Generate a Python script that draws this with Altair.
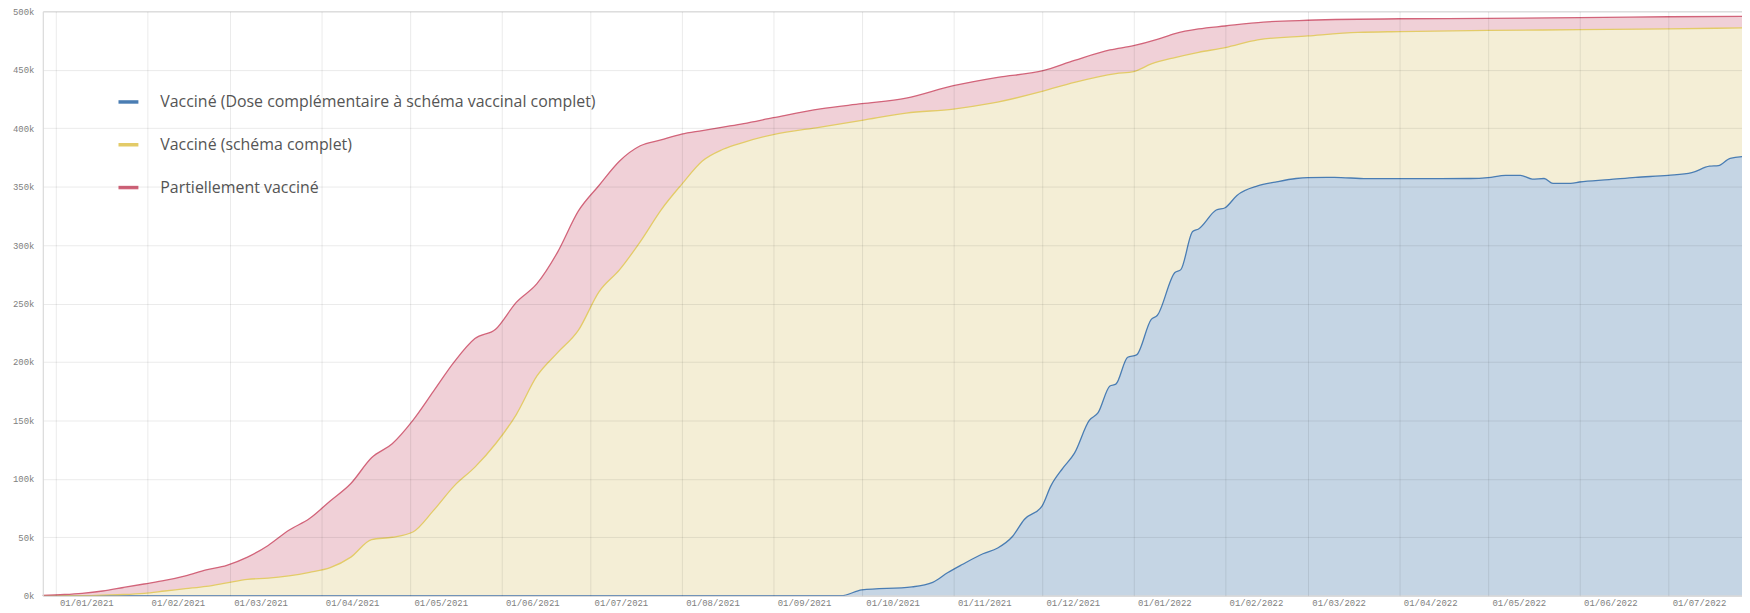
import altair as alt
import pandas as pd

# ---- data (values in persons) ----
red_dates = ["2020-12-27", "2021-01-04", "2021-01-10", "2021-01-17", "2021-01-24", "2021-01-31",
             "2021-02-07", "2021-02-14", "2021-02-21", "2021-02-28", "2021-03-07", "2021-03-14",
             "2021-03-21", "2021-03-28", "2021-04-04", "2021-04-11", "2021-04-18", "2021-04-25",
             "2021-05-02", "2021-05-09", "2021-05-16", "2021-05-23", "2021-05-30", "2021-06-06",
             "2021-06-13", "2021-06-20", "2021-06-27", "2021-07-04", "2021-07-11", "2021-07-18",
             "2021-07-25", "2021-08-01", "2021-08-08", "2021-08-15", "2021-08-22", "2021-09-01",
             "2021-09-17", "2021-10-01", "2021-10-16", "2021-11-01", "2021-11-16", "2021-12-01",
             "2021-12-12", "2021-12-24", "2022-01-01", "2022-01-09", "2022-01-15", "2022-01-23",
             "2022-02-01", "2022-02-14", "2022-03-01", "2022-04-01", "2022-05-01", "2022-06-01",
             "2022-07-01", "2022-07-28"]
red_vals = [300, 1000, 2000, 4000, 7000, 10000,
            13000, 17000, 22000, 26000, 33000, 43000,
            56000, 66000, 81000, 96000, 118000, 130000,
            150000, 175000, 200000, 220000, 228000, 251000,
            267000, 294000, 329000, 351000, 372000, 385000,
            390000, 395000, 398000, 401000, 404000, 409000,
            416600, 421000, 425700, 436400, 443600, 449000,
            458000, 467000, 470600, 476000, 481000, 485000,
            487500, 490800, 492400, 493700, 494000, 494700,
            495400, 495700]

yellow_dates = ["2020-12-27", "2021-01-10", "2021-01-17", "2021-01-24", "2021-01-31", "2021-02-07",
                "2021-02-14", "2021-02-21", "2021-02-28", "2021-03-07", "2021-03-14", "2021-03-21",
                "2021-03-28", "2021-04-04", "2021-04-11", "2021-04-18", "2021-04-25", "2021-05-02",
                "2021-05-09", "2021-05-16", "2021-05-23", "2021-05-30", "2021-06-06", "2021-06-13",
                "2021-06-20", "2021-06-27", "2021-07-04", "2021-07-11", "2021-07-18", "2021-07-25",
                "2021-08-01", "2021-08-08", "2021-08-15", "2021-08-22", "2021-09-01", "2021-09-17",
                "2021-10-01", "2021-10-16", "2021-11-01", "2021-11-14", "2021-12-01", "2021-12-12",
                "2021-12-26", "2022-01-01", "2022-01-07", "2022-01-15", "2022-01-23", "2022-02-01",
                "2022-02-12", "2022-03-01", "2022-03-18", "2022-04-01", "2022-05-01", "2022-06-01",
                "2022-07-01", "2022-07-28"]
yellow_vals = [0, 0, 500, 1000, 2000, 4000,
               6000, 8000, 11000, 14000, 15000, 17000,
               20000, 24000, 33000, 48000, 50000, 54500,
               73000, 94000, 110000, 130000, 155000, 188000,
               208000, 227000, 260000, 279000, 303000, 330000,
               352000, 372000, 382000, 388000, 394600, 401000,
               406700, 413000, 416400, 421400, 431500, 439300,
               446800, 448500, 455000, 460500, 465000, 469000,
               475600, 479000, 482000, 482700, 483700, 484300,
               485000, 486000]

blue_dates = ["2020-12-27", "2021-09-24", "2021-10-01", "2021-10-18", "2021-10-25", "2021-10-30",
              "2021-11-04", "2021-11-11", "2021-11-16", "2021-11-21", "2021-11-25", "2021-12-01",
              "2021-12-04", "2021-12-08", "2021-12-12", "2021-12-17", "2021-12-20", "2021-12-24",
              "2021-12-26", "2021-12-30", "2022-01-02", "2022-01-07", "2022-01-09", "2022-01-15",
              "2022-01-17", "2022-01-21", "2022-01-23", "2022-01-29", "2022-02-01", "2022-02-05",
              "2022-02-12", "2022-02-18", "2022-02-25", "2022-03-01", "2022-03-10", "2022-03-21",
              "2022-04-01", "2022-04-15", "2022-04-25", "2022-05-01", "2022-05-07", "2022-05-12",
              "2022-05-16", "2022-05-20", "2022-05-23", "2022-05-29", "2022-06-01", "2022-06-11",
              "2022-06-20", "2022-07-01", "2022-07-09", "2022-07-15", "2022-07-18", "2022-07-22",
              "2022-07-28"]
blue_vals = [0, 0, 4900, 7500, 11400, 19600,
             26700, 35900, 40800, 50600, 65200, 76600,
             94000, 109000, 122000, 150000, 156600, 179400,
             181000, 204000, 206000, 236500, 239800, 276600,
             279000, 311600, 313800, 330000, 332000, 342500,
             350600, 353900, 357000, 357800, 358000, 356800,
             356800, 356800, 357000, 357800, 359700, 359700,
             356500, 357000, 352800, 352800, 354000, 356000,
             358000, 359700, 362000, 367500, 368000, 374300,
             376000]

series_names = ["Vaccin\u00e9 (Dose compl\u00e9mentaire \u00e0 sch\u00e9ma vaccinal complet)",
                "Vaccin\u00e9 (sch\u00e9ma complet)",
                "Partiellement vaccin\u00e9"]
line_colors = ["#4a7db3", "#e3cb68", "#d2647a"]
fill_colors = ["#c5d5e4", "#f4eed6", "#f0d0d7"]

frames = []
for name, d, v in zip(series_names, [blue_dates, yellow_dates, red_dates],
                      [blue_vals, yellow_vals, red_vals]):
    frames.append(pd.DataFrame({"series": name, "date": d, "value": v}))
df = pd.concat(frames, ignore_index=True)

t0 = int(pd.Timestamp("2020-12-27T17:00:00Z").value // 10**6)
t1 = int(pd.Timestamp("2022-07-26T00:00:00Z").value // 10**6)

MONO = "Liberation Mono"

x = alt.X("date:T",
          scale=alt.Scale(type="utc", domain=[t0, t1]),
          axis=alt.Axis(format="%d/%m/%Y", tickCount={"interval": "month", "step": 1},
                        labelAlign="left", labelOffset=4, labelPadding=3, labelBaseline="top",
                        ticks=False, domain=False, grid=True, gridColor="#000000",
                        gridOpacity=0.085, labelFont=MONO, labelFontSize=9,
                        labelColor="#808080", labelFlush=False, labelOverlap=False,
                        labelBound=False, title=None, zindex=1))
y = alt.Y("value:Q",
          scale=alt.Scale(domain=[0, 500000], nice=False, zero=True),
          axis=alt.Axis(values=list(range(0, 500001, 50000)), format="~s",
                        ticks=False, labelPadding=9, domain=True, domainColor="#dcdcdc",
                        grid=True, gridColor="#000000", gridOpacity=0.085,
                        labelFont=MONO, labelFontSize=9, labelColor="#808080",
                        labelFlush=False, labelBound=False, title=None, zindex=1),
          stack=None)

stroke_scale = alt.Scale(domain=series_names, range=line_colors)
legend = alt.Legend(title=None, orient="none", legendX=74, legendY=79,
                    symbolType="stroke", symbolSize=400, symbolStrokeWidth=3.5,
                    labelFont="Open Sans", labelFontSize=16, labelColor="#555555",
                    labelOffset=20, rowPadding=23, padding=0, labelLimit=800)

layers = []
for name, fc in reversed(list(zip(series_names, fill_colors))):
    layers.append(
        alt.Chart(df).transform_filter(alt.datum.series == name)
        .mark_area(clip=True, color=fc, interpolate="monotone")
        .encode(x=x, y=y)
    )
line_layer = (
    alt.Chart(df)
    .mark_line(clip=True, strokeWidth=1.3, interpolate="monotone")
    .encode(x=x, y=y,
            color=alt.Color("series:N", scale=stroke_scale, legend=legend))
)
layers.append(line_layer)

chart = alt.layer(*layers).properties(
    width=1707, height=587,
    autosize=alt.AutoSizeParams(type="none"),
    padding={"left": 35, "top": 2, "right": 0, "bottom": 14},
).configure_view(stroke=None).configure(background="white")

chart.save("out.html", embed_options={"renderer": "svg", "actions": False})
